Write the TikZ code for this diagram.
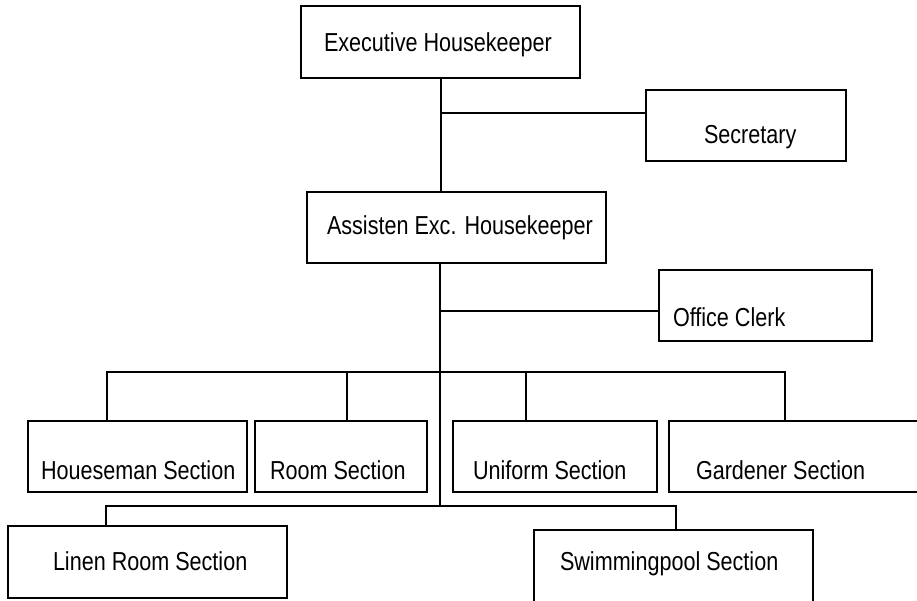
\documentclass[tikz,border=0pt]{standalone}
\usepackage{fontspec}
\newfontfamily\lblfont[FakeStretch=0.83]{Liberation Sans}
\begin{document}
\begin{tikzpicture}[x=1pt,y=-1pt,
  line width=2pt,
  box/.style={draw, anchor=north west, inner sep=0pt, outer sep=0pt},
  lbl/.style={anchor=base west, inner sep=0pt, font=\lblfont\fontsize{26}{30}\selectfont}]
\useasboundingbox (0,0) rectangle (917,600);
\clip (0,0) rectangle (917,600);
% boxes
\node[box, minimum width=279pt, minimum height=72pt] (exec) at (301,6) {};
\node[box, minimum width=200pt, minimum height=71pt] (sec) at (646,90) {};
\node[box, minimum width=299pt, minimum height=71pt] (asst) at (307,192) {};
\node[box, minimum width=213pt, minimum height=71pt] (clerk) at (659,270) {};
\node[box, minimum width=219pt, minimum height=71pt] (hs) at (28,421) {};
\node[box, minimum width=172pt, minimum height=71pt] (rs) at (255,421) {};
\node[box, minimum width=204pt, minimum height=71pt] (us) at (453,421) {};
\node[box, minimum width=270pt, minimum height=71pt] (gs) at (669,421) {};
\node[box, minimum width=279pt, minimum height=72pt] (ls) at (8,526) {};
\node[box, minimum width=279pt, minimum height=90pt] (ss) at (534,530) {};
% labels
\node[lbl] (execT) at (323,51) {Executive Housekeeper};
\node[lbl] (secT) at (703,143) {Secretary};
\node[lbl] (asstT) at (326,234) {Assisten Exc. Housekeeper};
\node[lbl] (clerkT) at (672,326) {Office Clerk};
\node[lbl] (hsT) at (40,479) {Houeseman Section};
\node[lbl] (rsT) at (269,479) {Room Section};
\node[lbl] (usT) at (472,479) {Uniform Section};
\node[lbl] (gsT) at (695,479) {Gardener Section};
\node[lbl] (lsT) at (52,570) {Linen Room Section};
\node[lbl] (ssT) at (559,570) {Swimmingpool Section};
% junction coordinates
\coordinate (e0) at (440.5,78);
\coordinate (j1) at (440.5,113);
\coordinate (t0) at (439.5,263);
\coordinate (j2) at (439.5,311);
\coordinate (t1) at (439.5,506);
\coordinate (b1) at (107,372);
\coordinate (b2) at (347,372);
\coordinate (b3) at (526,372);
\coordinate (b4) at (785,372);
\coordinate (c1) at (106,506);
\coordinate (c2) at (676,506);
% connectors
\draw (e0) -- (e0 |- asst.north);
\draw (j1) -- (j1 -| sec.west);
\draw (t0) -- (t1);
\draw (j2) -- (j2 -| clerk.west);
\draw (b1 |- hs.north) -- (b1) -- (b4) -- (b4 |- gs.north);
\draw (b2) -- (b2 |- rs.north);
\draw (b3) -- (b3 |- us.north);
\draw (c1 |- ls.north) -- (c1) -- (c2) -- (c2 |- ss.north);
\end{tikzpicture}
\end{document}
